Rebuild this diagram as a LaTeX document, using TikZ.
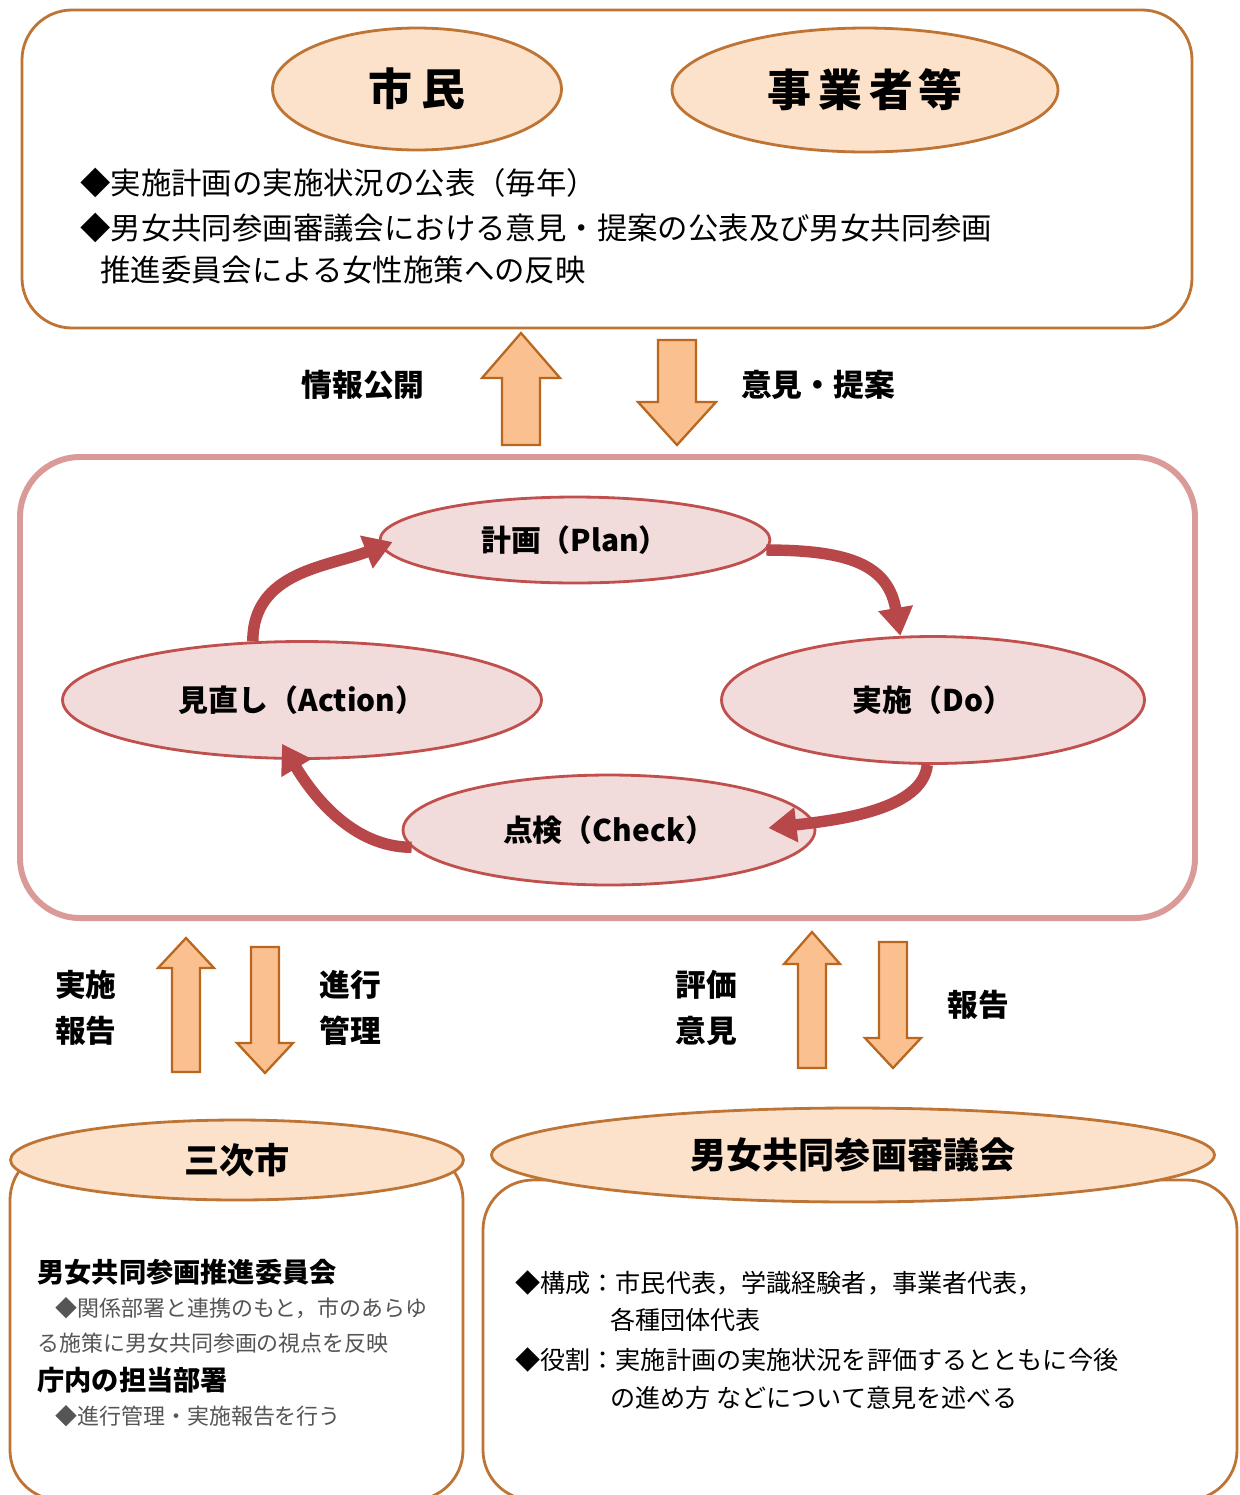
\documentclass[tikz,border=0pt]{standalone}
\usepackage{fontspec}
\setmainfont{Noto Sans CJK JP}
\usetikzlibrary{arrows.meta,calc,shapes.geometric}
\definecolor{obrd}{HTML}{BE7434}
\definecolor{peach}{HTML}{FCE2CA}
\definecolor{afill}{HTML}{FAC08F}
\definecolor{abrd}{HTML}{B9661F}
\definecolor{pinkbrd}{HTML}{DA9A98}
\definecolor{pfill}{HTML}{F2DCDB}
\definecolor{pbrd}{HTML}{C0504D}
\definecolor{cyc}{HTML}{B8474A}
\definecolor{graytxt}{HTML}{555555}
\newcommand{\blkup}[6]{\draw[blockarrow] (#1-#4,#2) -- (#1-#4,#3+#6) -- (#1-#5,#3+#6) -- (#1,#3) -- (#1+#5,#3+#6) -- (#1+#4,#3+#6) -- (#1+#4,#2) -- cycle;}
\newcommand{\blkdown}[6]{\draw[blockarrow] (#1-#4,#2) -- (#1-#4,#3-#6) -- (#1-#5,#3-#6) -- (#1,#3) -- (#1+#5,#3-#6) -- (#1+#4,#3-#6) -- (#1+#4,#2) -- cycle;}
\tikzset{
  obox/.style={draw=obrd, line width=1.6pt, fill=white, rounded corners=1cm},
  oell/.style={ellipse, draw=obrd, line width=1.6pt, fill=peach, inner sep=0pt},
  blockarrow/.style={draw=abrd, line width=1.3pt, fill=afill, line join=miter},
  pell/.style={ellipse, draw=pbrd, line width=1.6pt, fill=pfill, inner sep=0pt, font=\fontsize{17pt}{20pt}\selectfont\bfseries},
  cycarrow/.style={draw=cyc, line width=6.5pt, -{Triangle[length=16pt,width=19pt]}},
  txt/.style={inner sep=0pt, anchor=west, text=black},
  ftop/.style={font=\fontsize{17.3pt}{20pt}\selectfont},
  flab/.style={font=\fontsize{17.5pt}{20pt}\selectfont\bfseries},
  fhead/.style={font=\fontsize{15.5pt}{18pt}\selectfont\bfseries},
  fsmall/.style={font=\fontsize{12.5pt}{15pt}\selectfont, text=graytxt},
  fright/.style={font=\fontsize{14.3pt}{17pt}\selectfont},
}
\begin{document}
\begin{tikzpicture}[x=0.02cm,y=-0.02cm]
\useasboundingbox (0,0) rectangle (1240,1495);
% top box
\draw[obox] (22,10) rectangle (1192,328);
\node[oell, minimum width=5.78cm, minimum height=2.44cm, font=\fontsize{25pt}{28pt}\selectfont\bfseries] (shimin) at (417,89) {市\hspace{5pt}民};
\node[oell, minimum width=7.72cm, minimum height=2.48cm, font=\fontsize{25pt}{28pt}\selectfont\bfseries] (jigyo) at (865,90) {事\hspace{4pt}業\hspace{4pt}者\hspace{3pt}等};
\node[txt, ftop] (t1) at (80,183) {◆実施計画の実施状況の公表（毎年）};
\node[txt, ftop] (t2) at (80,228) {◆男女共同参画審議会における意見・提案の公表及び男女共同参画};
\node[txt, ftop] (t3) at (100,270) {推進委員会による女性施策への反映};
% top arrows
\blkup{521}{445}{333}{19}{39}{45}
\blkdown{677}{340}{445}{19}{39}{43}
\node[flab, inner sep=0pt] (lk1) at (363,385) {情報公開};
\node[flab, inner sep=0pt] (lk2) at (818,385) {意見・提案};
% middle box
\draw[draw=pinkbrd, line width=3.4pt, fill=white, rounded corners=1.2cm] (20,457) rectangle (1195,918);
\node[pell, minimum width=7.8cm, minimum height=1.72cm] (plan) at (575,540) {計画（Plan）};
\node[pell, minimum width=9.58cm, minimum height=2.34cm] (act) at (302,700) {見直し（Action）};
\node[pell, minimum width=8.46cm, minimum height=2.54cm] (do) at (933,700) {実施（Do）};
\node[pell, minimum width=8.24cm, minimum height=2.2cm] (chk) at (609,830) {点検（Check）};
\draw[cycarrow] (act.130) .. controls +(0,-70) and +(-65,25) .. ($(plan.west)+(14,2)$);
\draw[cycarrow] (plan.-3) .. controls +(85,0) and +(-12,-70) .. (do.117);
\draw[cycarrow] (do.-95) .. controls +(-5,45) and +(70,-8) .. ($(chk.east)+(-48,-2)$);
\draw[cycarrow] (chk.185) .. controls +(-60,0) and +(30,50) .. ($(act.south)+(-20,-16)$);
% bottom arrows
\blkup{186}{1072}{938}{14}{28}{30}
\blkdown{265}{947}{1073}{14}{28}{30}
\blkup{812}{1068}{932}{14}{28}{32}
\blkdown{893}{942}{1068}{14}{28}{30}
\node[flab, inner sep=0pt, align=center] (lb1) at (86,1008) {実施\\[6pt]報告};
\node[flab, inner sep=0pt, align=center] (lb2) at (350,1008) {進行\\[6pt]管理};
\node[flab, inner sep=0pt, align=center] (lb3) at (706,1008) {評価\\[6pt]意見};
\node[flab, inner sep=0pt] (lb4) at (978,1005) {報告};
% bottom boxes
\draw[obox] (10,1150) rectangle (463,1500);
\draw[obox] (483,1180) rectangle (1237,1500);
\node[oell, minimum width=9.06cm, minimum height=1.6cm, font=\fontsize{20pt}{24pt}\selectfont\bfseries] (city) at (237,1160) {三次市};
\node[oell, minimum width=14.46cm, minimum height=1.88cm, font=\fontsize{20.5pt}{24pt}\selectfont\bfseries] (council) at (853,1155) {男女共同参画審議会};
\node[txt, fhead] (l1) at (37,1272) {男女共同参画推進委員会};
\node[txt, fsmall] (l2) at (55,1308) {◆関係部署と連携のもと，市のあらゆ};
\node[txt, fsmall] (l3) at (37,1343) {る施策に男女共同参画の視点を反映};
\node[txt, fhead] (l4) at (37,1380) {庁内の担当部署};
\node[txt, fsmall] (l5) at (55,1416) {◆進行管理・実施報告を行う};
\node[txt, fright] (r1) at (515,1283) {◆構成：市民代表，学識経験者，事業者代表，};
\node[txt, fright] (r2) at (610,1320) {各種団体代表};
\node[txt, fright] (r3) at (515,1360) {◆役割：実施計画の実施状況を評価するとともに今後};
\node[txt, fright] (r4) at (610,1398) {の進め方 などについて意見を述べる};
\end{tikzpicture}
\end{document}
